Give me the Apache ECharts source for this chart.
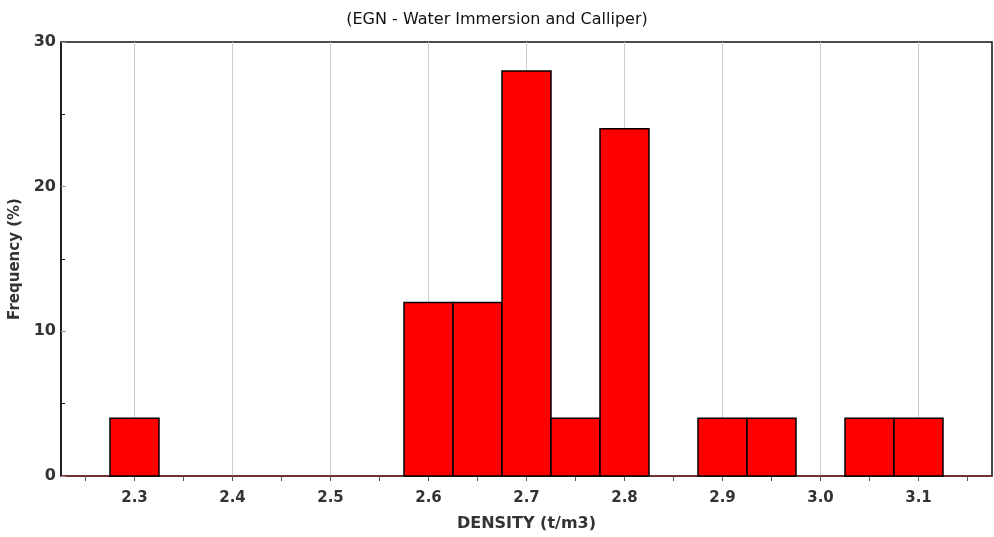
<!DOCTYPE html>
<html>
<head>
<meta charset="utf-8">
<script src="https://cdn.jsdelivr.net/npm/echarts@6/dist/echarts.min.js"></script>
<style>
  html, body { margin: 0; padding: 0; background: #fff; }
  #chart { width: 994px; height: 537px; }
</style>
</head>
<body>
<div id="chart"></div>
<script>
// bin centres (t/m3) and frequencies (%), each bin 0.05 wide
const binCentres = [2.30, 2.60, 2.65, 2.70, 2.75, 2.80, 2.90, 2.95, 3.05, 3.10];
const frequency  = [4, 12, 12, 28, 4, 24, 4, 4, 4, 4];
const binWidth = 0.05;

const xLabels = [2.3, 2.4, 2.5, 2.6, 2.7, 2.8, 2.9, 3.0, 3.1];
const xTicks = [2.25, 2.3, 2.35, 2.4, 2.45, 2.5, 2.55, 2.6, 2.65, 2.7, 2.75, 2.8, 2.85, 2.9, 2.95, 3.0, 3.05, 3.1, 3.15];

const chart = echarts.init(document.getElementById('chart'));
const fontFam = 'DejaVu Sans';

const option = {
    animation: false,
    title: {
        text: '(EGN - Water Immersion and Calliper)',
        left: 'center',
        top: 7,
        textStyle: { fontFamily: fontFam, fontSize: 16, fontWeight: 'normal', color: '#111' }
    },
    grid: {
        left: 61, right: 2, top: 42, bottom: 61,
        outerBoundsMode: 'none',
        containLabel: false,
        show: true, borderColor: '#111', borderWidth: 1.5
    },
    xAxis: [
        {
            type: 'value',
            min: 2.225,
            max: 3.175,
            name: 'DENSITY (t/m3)',
            nameLocation: 'middle',
            nameGap: 40,
            nameTextStyle: { fontFamily: fontFam, fontSize: 16, fontWeight: 'bold', color: '#333' },
            axisLine: { show: true, onZero: false, lineStyle: { color: '#7a2a2a', width: 1.5 } },
            axisTick: { show: true, length: 5, customValues: xTicks, lineStyle: { color: '#555' } },
            axisLabel: {
                customValues: xLabels,
                margin: 15,
                fontFamily: fontFam, fontSize: 15, fontWeight: 'bold', color: '#333',
                formatter: v => v.toFixed(1)
            },
            splitLine: { show: false }
        },
        {
            // vertical grid lines only
            type: 'value',
            min: 2.225,
            max: 3.175,
            position: 'bottom',
            axisLine: { show: false },
            axisTick: { show: false, customValues: xLabels },
            axisLabel: { show: false, customValues: xLabels },
            splitLine: { show: true, lineStyle: { color: '#cccccc', width: 1 } }
        }
    ],
    yAxis: {
        type: 'value',
        min: 0,
        max: 30,
        interval: 10,
        name: 'Frequency (%)',
        nameLocation: 'middle',
        nameGap: 30,
        nameTextStyle: { fontFamily: fontFam, fontSize: 15, fontWeight: 'bold', color: '#333' },
        axisLine: { show: true, lineStyle: { color: '#111', width: 1.5 } },
        axisTick: { show: true, inside: true, length: 5, lineStyle: { color: '#999' } },
        minorTick: { show: true, splitNumber: 2, length: 4, lineStyle: { color: '#111' } },
        axisLabel: { margin: 5, fontFamily: fontFam, fontSize: 16, fontWeight: 'bold', color: '#333' },
        splitLine: { show: false }
    },
    series: [
        {
            type: 'custom',
            xAxisIndex: 0,
            data: binCentres.map((c, i) => [c, frequency[i]]),
            z: 5,
            renderItem: function (params, api) {
                const c = api.value(0);
                const f = api.value(1);
                const p0 = api.coord([c - binWidth / 2, f]);
                const p1 = api.coord([c + binWidth / 2, 0]);
                return {
                    type: 'rect',
                    shape: { x: p0[0], y: p0[1], width: p1[0] - p0[0], height: p1[1] - p0[1] },
                    style: { fill: '#ff0000', stroke: '#000', lineWidth: 1.5 }
                };
            }
        }
    ]
};

chart.setOption(option);
window.onresize = () => {
    chart.resize();
};
</script>
</body>
</html>
